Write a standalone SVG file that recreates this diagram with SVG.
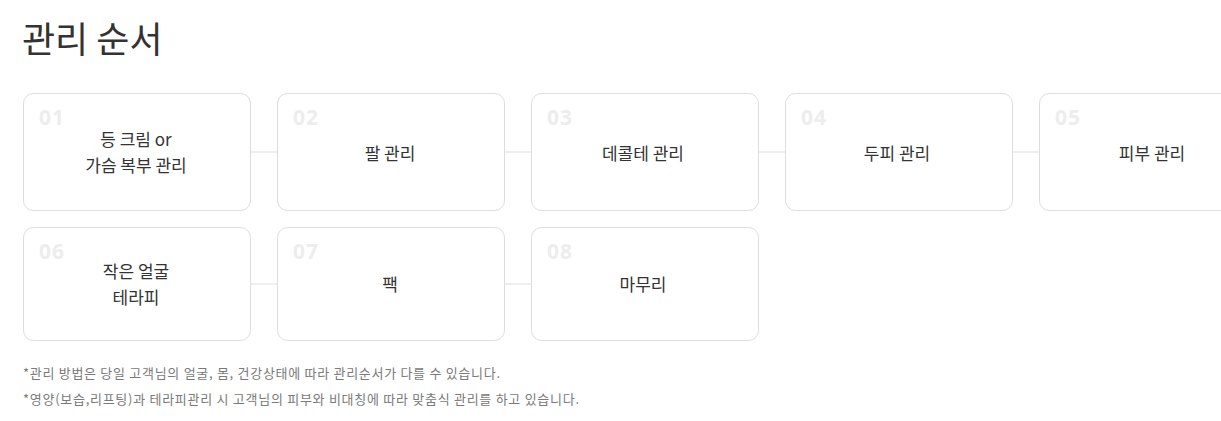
<svg xmlns="http://www.w3.org/2000/svg" width="1221" height="421" viewBox="0 0 1221 421">
<style>
.box{fill:#fff;stroke:#dddddd;stroke-width:1}
.num{font-family:"Noto Sans","Noto Sans CJK KR",sans-serif;font-size:21px;font-weight:700;fill:#ededed;letter-spacing:1px}
.lbl{font-family:"Noto Sans CJK KR",sans-serif;font-size:17px;fill:#333;text-anchor:middle}
.title{font-family:"Noto Sans CJK KR",sans-serif;font-size:36px;fill:#333;font-weight:400}
.note{font-family:"Noto Sans CJK KR",sans-serif;font-size:13px;fill:#7a7a7a}
.conn{stroke:#dddddd;stroke-width:1;fill:none}
</style>
<rect width="1221" height="421" fill="#fff"/>
<text class="title" x="22" y="53">관리 순서</text>
<g id="connectors">
<line class="conn" x1="250" y1="152" x2="277" y2="152"/>
<line class="conn" x1="504" y1="152" x2="531" y2="152"/>
<line class="conn" x1="758" y1="152" x2="785" y2="152"/>
<line class="conn" x1="1012" y1="152" x2="1039" y2="152"/>
<line class="conn" x1="250" y1="284" x2="277" y2="284"/>
<line class="conn" x1="504" y1="284" x2="531" y2="284"/>
</g>
<g id="n01"><rect class="box" x="23.5" y="93.5" width="227" height="117" rx="10"/><text class="num" x="39" y="125">01</text><text class="lbl" x="136" y="146">등 크림 or</text><text class="lbl" x="136" y="172">가슴 복부 관리</text></g>
<g id="n02"><rect class="box" x="277.5" y="93.5" width="227" height="117" rx="10"/><text class="num" x="293" y="125">02</text><text class="lbl" x="390" y="160">팔 관리</text></g>
<g id="n03"><rect class="box" x="531.5" y="93.5" width="227" height="117" rx="10"/><text class="num" x="547" y="125">03</text><text class="lbl" x="643" y="160">데콜테 관리</text></g>
<g id="n04"><rect class="box" x="785.5" y="93.5" width="227" height="117" rx="10"/><text class="num" x="801" y="125">04</text><text class="lbl" x="897" y="160">두피 관리</text></g>
<g id="n05"><rect class="box" x="1039.5" y="93.5" width="227" height="117" rx="10"/><text class="num" x="1055" y="125">05</text><text class="lbl" x="1152" y="160">피부 관리</text></g>
<g id="n06"><rect class="box" x="23.5" y="227.5" width="227" height="113" rx="10"/><text class="num" x="39" y="259">06</text><text class="lbl" x="136" y="278">작은 얼굴</text><text class="lbl" x="136" y="304">테라피</text></g>
<g id="n07"><rect class="box" x="277.5" y="227.5" width="227" height="113" rx="10"/><text class="num" x="293" y="259">07</text><text class="lbl" x="390" y="291">팩</text></g>
<g id="n08"><rect class="box" x="531.5" y="227.5" width="227" height="113" rx="10"/><text class="num" x="547" y="259">08</text><text class="lbl" x="643" y="291">마무리</text></g>
<text class="note" x="23" y="378" textLength="477" lengthAdjust="spacing">*관리 방법은 당일 고객님의 얼굴, 몸, 건강상태에 따라 관리순서가 다를 수 있습니다.</text>
<text class="note" x="23" y="404" textLength="556" lengthAdjust="spacing">*영양(보습,리프팅)과 테라피관리 시 고객님의 피부와 비대칭에 따라 맞춤식 관리를 하고 있습니다.</text>
</svg>
